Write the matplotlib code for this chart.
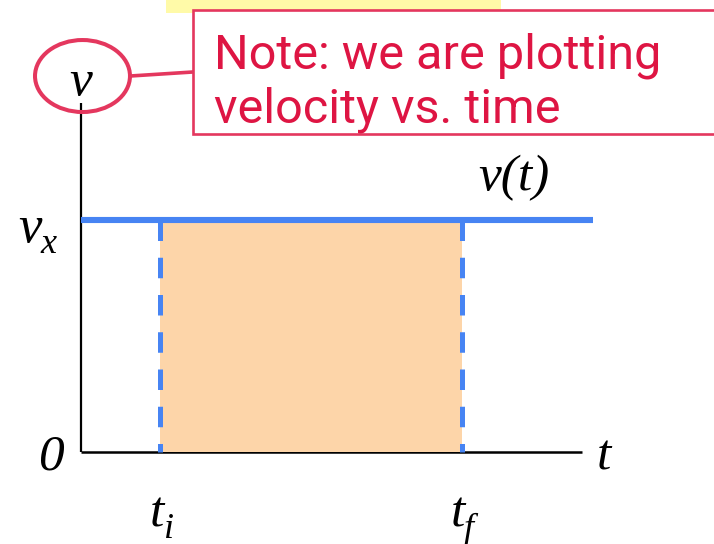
import matplotlib
matplotlib.use("Agg")
import matplotlib.pyplot as plt
from matplotlib.patches import Rectangle, Ellipse

# diagram values (time / velocity units)
t_i = 1.0
t_f = 4.8
v_x = 3.0
t_axis_end = 6.30
v_axis_top = 4.51
t_line_end = 6.44

blue = "#4784F3"
peach = "#FDD5A9"
red = "#DE1543"
red_edge = "#E4375E"

fig = plt.figure(figsize=(7.14, 5.44), dpi=100)
ax = fig.add_axes([0, 0, 1, 1])
ax.set_xlim(-1.019, 7.965)
ax.set_ylim(-1.181, 5.839)
ax.set_axis_off()

# axes of the diagram
ax.plot([0, 0], [0, v_axis_top], color="black", lw=1.6, solid_capstyle="butt", zorder=2)
ax.plot([0, t_axis_end], [0, 0], color="black", lw=1.8, solid_capstyle="butt", zorder=2)

# area under v(t)
ax.fill_between([t_i, t_f], 0, v_x, color=peach, lw=0, zorder=3)
for t in (t_i, t_f):
    ax.plot([t, t], [v_x, 0], color=blue, lw=3.6, linestyle=(0, (4.1, 3.35)),
            solid_capstyle="butt", dash_capstyle="butt", zorder=4)

# v(t) = v_x
ax.plot([0, t_line_end], [v_x, v_x], color=blue, lw=4.4, solid_capstyle="butt", zorder=5)

serif = dict(family="Liberation Serif", style="italic", color="black")
ax.text(4.996, 3.387, "v(t)", fontsize=37, va="baseline", ha="left", **serif)
ax.text(-0.793, 2.716, "v", fontsize=38, va="baseline", ha="left", **serif)
ax.text(-0.516, 2.574, "x", fontsize=26, va="baseline", ha="left", **serif)
ax.text(-0.541, -0.226, "0", fontsize=37, va="baseline", ha="left", **serif)
ax.text(6.493, -0.226, "t", fontsize=37, va="baseline", ha="left", **serif)
ax.text(0.868, -0.961, "t", fontsize=37, va="baseline", ha="left", **serif)
ax.text(1.044, -1.11, "i", fontsize=26, va="baseline", ha="left", **serif)
ax.text(4.656, -0.961, "t", fontsize=37, va="baseline", ha="left", **serif)
ax.text(4.82, -1.11, "f", fontsize=26, va="baseline", ha="left", **serif)

# circled v label
ax.add_patch(Ellipse((0.019, 4.858), 1.195, 0.929, fill=False, ec=red_edge, lw=2.9, zorder=6))
ax.text(0.0, 4.613, "v", fontsize=37, va="baseline", ha="center", zorder=7, **serif)
ax.plot([0.617, 1.409], [4.858, 4.910], color=red_edge, lw=2.6, zorder=6)

# note box
ax.add_patch(Rectangle((1.07, 5.671), 4.215, 0.3, color="#FFFAA8", lw=0, zorder=1))
ax.add_patch(Rectangle((1.409, 4.11), 6.8, 1.6, fc="white", ec=red_edge, lw=1.9, zorder=6))
ax.text(1.674, 4.961, "Note: we are plotting", fontsize=35, family="Roboto",
        color=red, va="baseline", ha="left", zorder=7)
ax.text(1.674, 4.252, "velocity vs. time", fontsize=35, family="Roboto",
        color=red, va="baseline", ha="left", zorder=7)

fig.savefig("out.png", dpi=100)
